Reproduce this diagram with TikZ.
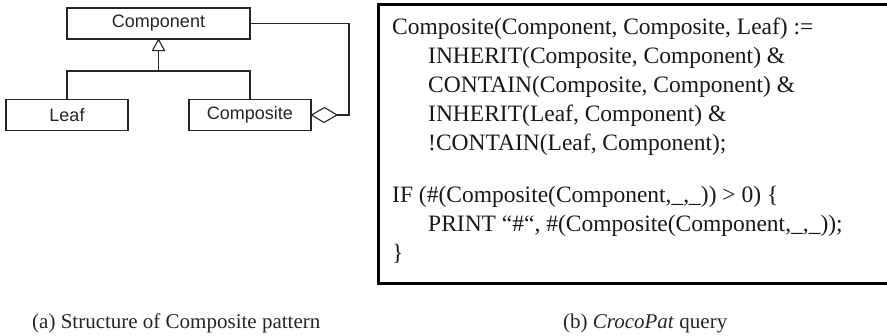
\documentclass[tikz,border=0pt]{standalone}
\usepackage{fontspec}
\setmainfont{Liberation Serif}
\newfontfamily\umlfont{Liberation Sans}
\begin{document}
\begin{tikzpicture}[x=1pt,y=-1pt,
  cls/.style={draw=black!85,line width=1.1pt,inner sep=0pt,minimum height=31pt,
    font=\umlfont\fontsize{18}{18}\selectfont,text=black!85},
  conn/.style={draw=black!85,line width=1.1pt},
  codeline/.style={anchor=base west,inner sep=0pt,font=\fontsize{23.5}{23.5}\selectfont,text=black!90},
  capt/.style={anchor=base west,inner sep=0pt,font=\fontsize{21}{21}\selectfont,text=black!85}]
\useasboundingbox (0,0) rectangle (887,335);
% UML
\node[cls,minimum width=183pt] (comp) at (158.5,23.5) {Component};
\node[cls,minimum width=122pt] (leaf) at (67,115) {Leaf};
\node[cls,minimum width=122pt] (cmps) at (250,115) {Composite};
\coordinate (tri) at (158.5,50);
\coordinate (join) at (158.5,71);
\draw[conn,fill=white] (comp.south) -- ++(6,11) -- ++(-12,0) -- cycle;
\draw[conn] (tri) -- (join);
\draw[conn] (leaf.north) |- (join) -| (cmps.north);
\coordinate (dtip) at (337,115);
\draw[conn,fill=white] (cmps.east) -- ++(13,-7.5) -- (dtip) -- ++(-13,7.5) -- cycle;
\coordinate (rc) at (349,23.5);
\draw[conn] (comp.east) -- (rc) |- (dtip);
% Code box
\node[draw=black,line width=2.8pt,inner sep=0pt,minimum width=520pt,minimum height=279pt,anchor=north west] (box) at (377,3) {};
\node[codeline] (l1) at (392,34) {Composite(Component, Composite, Leaf) :=};
\node[codeline] (l2) at (428,63) {INHERIT(Composite, Component) \&};
\node[codeline] (l3) at (428,92) {CONTAIN(Composite, Component) \&};
\node[codeline] (l4) at (428,121) {INHERIT(Leaf, Component) \&};
\node[codeline] (l5) at (428,150) {!CONTAIN(Leaf, Component);};
\node[codeline] (l6) at (392,202) {IF (\#(Composite(Component,\_,\_)) > 0) \{};
\node[codeline] (l7) at (428,231) {PRINT ``\#``, \#(Composite(Component,\_,\_));};
\node[codeline] (l8) at (392,260) {\}};
% captions
\node[capt] (ca) at (32,328) {(a) Structure of Composite pattern};
\node[capt] (cb) at (563,328) {(b) \textit{CrocoPat} query};
\end{tikzpicture}
\end{document}
